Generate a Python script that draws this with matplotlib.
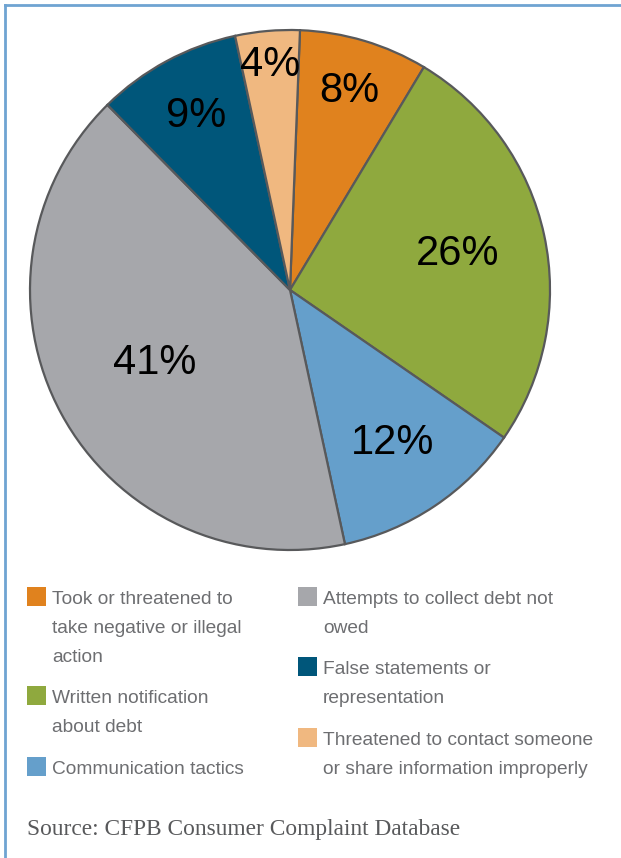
import matplotlib
matplotlib.use("Agg")
import numpy as np
import matplotlib.pyplot as plt
from matplotlib.patches import Rectangle
from matplotlib.lines import Line2D

# slices, clockwise from the top
categories = [
    "Took or threatened to\ntake negative or illegal\naction",
    "Written notification\nabout debt",
    "Communication tactics",
    "Attempts to collect debt not\nowed",
    "False statements or\nrepresentation",
    "Threatened to contact someone\nor share information improperly",
]
shares = [8, 26, 12, 41, 9, 4]
colors = ["#E0821E", "#8FA93E", "#659FCB", "#A6A7AB", "#00567A", "#F0B880"]

W, H = 621, 858
fig = plt.figure(figsize=(W / 100, H / 100), dpi=100)

sans = ["Liberation Sans", "DejaVu Sans"]

# pie axes: 520 px square, centre at (290, 290) from top-left
ax = fig.add_axes([30 / W, 1 - 550 / H, 520 / W, 520 / H])
wedges, _ = ax.pie(shares, colors=colors, startangle=87.8, counterclock=False,
                   radius=1.0,
                   wedgeprops=dict(edgecolor="#58595B", linewidth=1.6))
ax.set_xlim(-1, 1)
ax.set_ylim(-1, 1)
ax.set_aspect("equal")
ax.axis("off")

# percentage labels, each at its own distance from the centre
label_r = [0.80, 0.66, 0.71, 0.59, 0.76, 0.87]
for w, v, r in zip(wedges, shares, label_r):
    mid = np.deg2rad((w.theta1 + w.theta2) / 2)
    ax.text(r * np.cos(mid), r * np.sin(mid), f"{v}%", ha="center", va="center",
            fontsize=30, color="black", family=sans)

# legend, two columns drawn by hand; one text per line, 29 px apart
legend_pos = [(27, 587), (27, 686), (27, 757), (298, 587), (298, 657), (298, 728)]
for (x, y), col, lab in zip(legend_pos, colors, categories):
    fig.patches.append(Rectangle((x / W, 1 - (y + 19) / H), 19 / W, 19 / H,
                                 transform=fig.transFigure, facecolor=col,
                                 edgecolor="none"))
    for k, line in enumerate(lab.split("\n")):
        fig.text((x + 25) / W, 1 - (y + 17 + 29 * k) / H, line, ha="left",
                 va="baseline", fontsize=13.8, color="#6D6E71", family=sans)

fig.text(27 / W, 1 - 829 / H, "Source: CFPB Consumer Complaint Database",
         ha="left", va="center", fontsize=16.8, color="#58595B",
         family=["Liberation Serif", "DejaVu Serif"])

# frame lines on top and left
fig.add_artist(Line2D([5 / W, 1], [1 - 5 / H, 1 - 5 / H], transform=fig.transFigure,
                      color="#6FA4D2", linewidth=2))
fig.add_artist(Line2D([5 / W, 5 / W], [0, 1 - 5 / H], transform=fig.transFigure,
                      color="#6FA4D2", linewidth=2))

fig.savefig("out.png", dpi=100, facecolor="white")
